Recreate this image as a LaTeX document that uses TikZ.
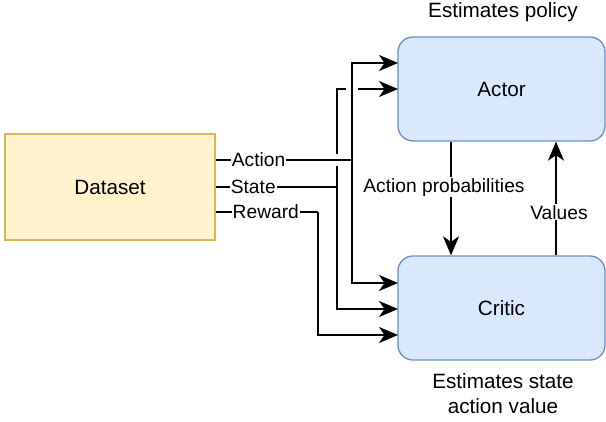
\documentclass[tikz,border=0pt]{standalone}
\usepackage{fontspec}
\setmainfont{Liberation Sans}
\usetikzlibrary{arrows.meta}

\definecolor{dataFill}{HTML}{FFF2CC}
\definecolor{dataLine}{HTML}{D6B656}
\definecolor{netFill}{HTML}{DAE8FC}
\definecolor{netLine}{HTML}{6C8EBF}

\begin{document}
\begin{tikzpicture}[x=1pt, y=-1pt, font=\fontsize{20.7}{25}\selectfont,
                    box_style/.style={draw, line width=1.3pt, inner sep=0pt},
                    data_style/.style={box_style, fill=dataFill, draw=dataLine, minimum width=210pt, minimum height=106pt},
                    net_style/.style={box_style, fill=netFill, draw=netLine, rounded corners=15pt, minimum width=207pt, minimum height=104pt},
                    edge_style/.style={draw=black, line width=1.7pt},
                    arrow_style/.style={edge_style, -{Stealth[length=19pt, width=16pt, inset=5.5pt]}},
                    label_style/.style={fill=white, inner sep=1pt, font=\fontsize{19.2}{23}\selectfont}]
                    \useasboundingbox (0,0) rectangle (606,421);
                    \node[data_style] (data) at (110,187) {Dataset};
                    \node[net_style] (actor) at (501.5,89) {Actor};
                    \node[net_style] (critic) at (501.5,308) {Critic};
                    \node (policy) at (503,12) {Estimates policy};
                    \node[align=center] (value) at (503,394) {Estimates state\\action value};
                    % split points
                    \coordinate (a_split) at (352,160);
                    \coordinate (s_split) at (337,187);
                    \coordinate (r_turn) at (318,212);
                    % inputs on actor and critic
                    \coordinate (actor_in1) at (398,63);
                    \coordinate (actor_in2) at (398,89);
                    \coordinate (critic_in1) at (398,283);
                    \coordinate (critic_in2) at (398,309);
                    \coordinate (critic_in3) at (398,335);
                    % state
                    \draw[edge_style] (data.east |- s_split) -- node[label_style, pos=0.31] {State} (s_split);
                    \draw[arrow_style] (s_split) |- (actor_in2);
                    \draw[arrow_style] (s_split) |- (critic_in2);
                    % line jumps
                    \draw[white, line width=4pt] ([xshift=-6pt]a_split |- actor_in2) -- ([xshift=6pt]a_split |- actor_in2);
                    \draw[white, line width=4pt] ([yshift=-6pt]s_split |- a_split) -- ([yshift=6pt]s_split |- a_split);
                    % action
                    \draw[edge_style] (data.east |- a_split) -- node[label_style, pos=0.315] {Action} (a_split);
                    \draw[arrow_style] (a_split) |- (actor_in1);
                    \draw[arrow_style] (a_split) |- (critic_in1);
                    % reward
                    \draw[edge_style] (data.east |- r_turn) -- node[label_style, pos=0.49] {Reward} (r_turn);
                    \draw[arrow_style] (r_turn) |- (critic_in3);
                    % actor and critic
                    \draw[arrow_style] (actor.south -| 451,0) -- node[label_style, pos=0.4, xshift=-7pt] {Action probabilities} (critic.north -| 451,0);
                    \draw[arrow_style] (critic.north -| 556,0) -- node[label_style, pos=0.38, xshift=3pt] {Values} (actor.south -| 556,0);
                \end{tikzpicture}
\end{document}
